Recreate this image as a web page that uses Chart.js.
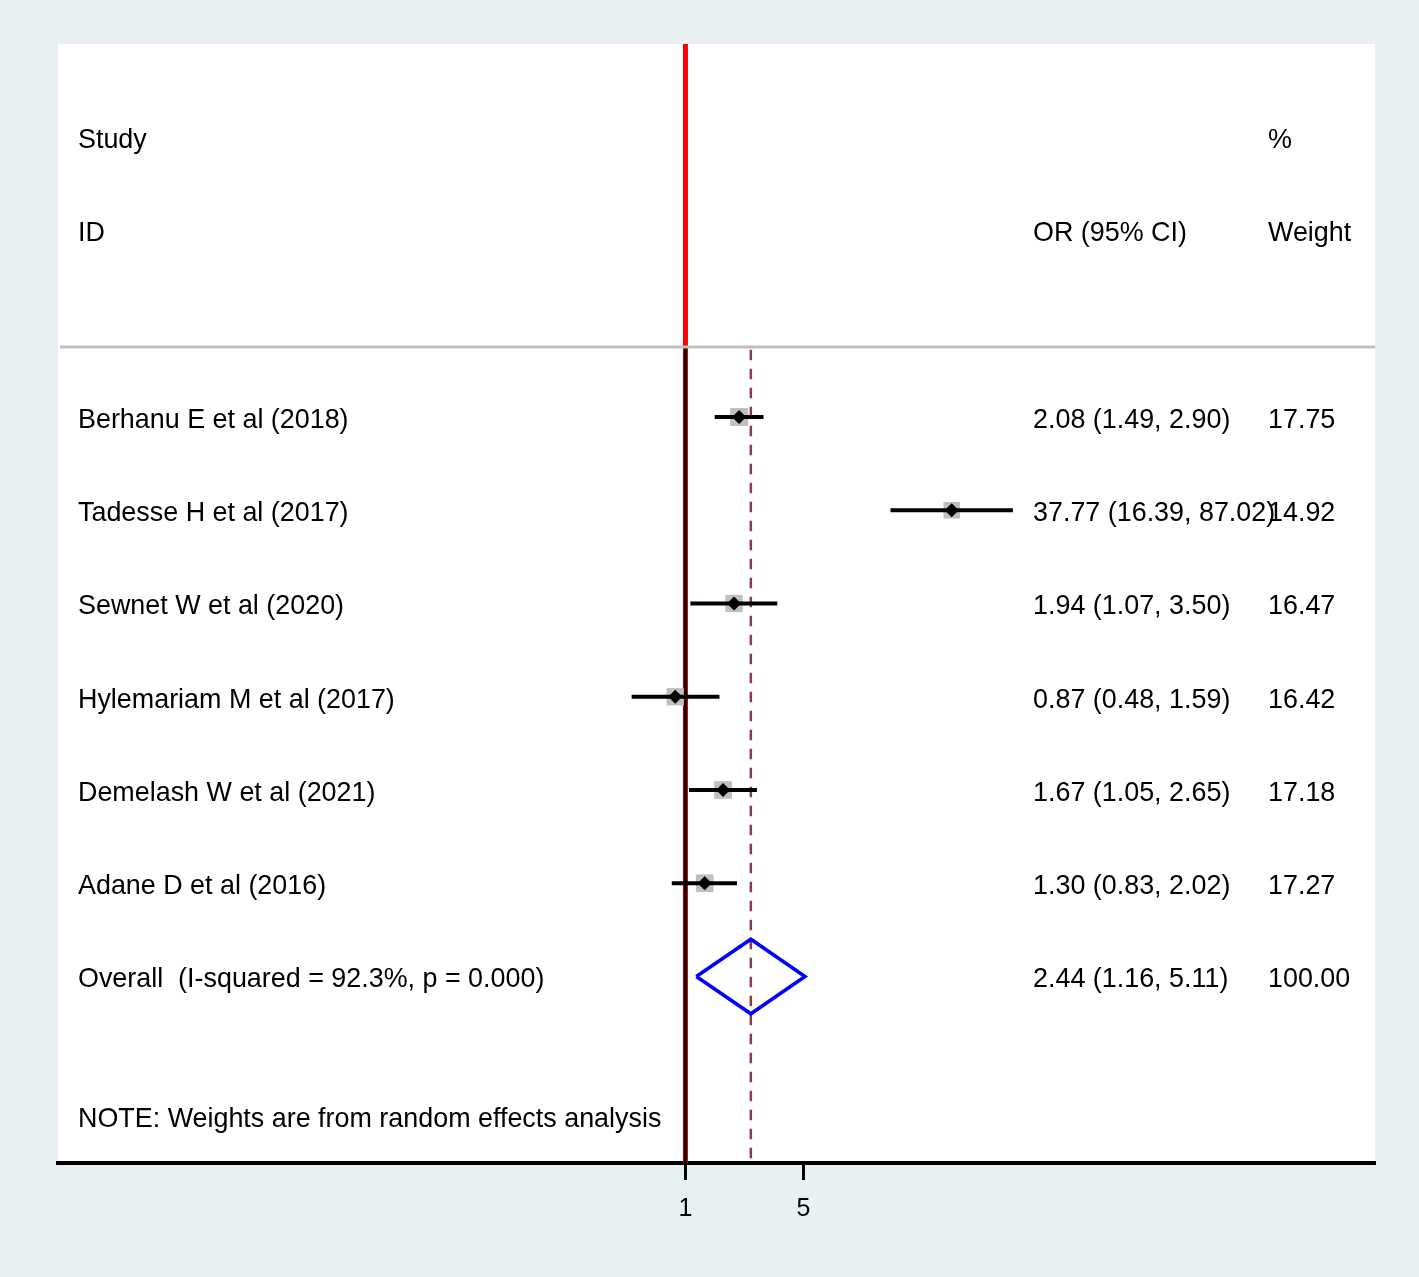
<!DOCTYPE html>
<html>
<head>
<meta charset="utf-8">
<title>Forest plot</title>
<script src="https://cdn.jsdelivr.net/npm/chart.js@4.4.1/dist/chart.umd.min.js"></script>
<style>
  html, body { margin: 0; padding: 0; background: #e8f0f2; }
  canvas { display: block; }
</style>
</head>
<body>
<canvas id="forest" width="1419" height="1277"></canvas>
<script>
// --- Data, top row first ---
const studies = [
  'Berhanu E et al (2018)',
  'Tadesse H et al (2017)',
  'Sewnet W et al (2020)',
  'Hylemariam M et al (2017)',
  'Demelash W et al (2021)',
  'Adane D et al (2016)'
];
const oddsRatios = [2.08, 37.77, 1.94, 0.87, 1.67, 1.30];
const ciLow = [1.49, 16.39, 1.07, 0.48, 1.05, 0.83];
const ciHigh = [2.90, 87.02, 3.50, 1.59, 2.65, 2.02];
const weights = [17.75, 14.92, 16.47, 16.42, 17.18, 17.27];

const overallLabel = 'Overall  (I-squared = 92.3%, p = 0.000)';
const overallOR = 2.44;
const overallLow = 1.16;
const overallHigh = 5.11;
const overallWeight = 100.00;
const noteText = 'NOTE: Weights are from random effects analysis';
const xTicks = [1, 5];

// --- Layout helpers ---
const FONT = '"Liberation Sans", Arial, Helvetica, sans-serif';
const overallRow = studies.length;
const sepRow = -0.75;           // grey line under the header
const fmt = v => v.toFixed(2);
const ciText = (o, l, h) => `${fmt(o)} (${fmt(l)}, ${fmt(h)})`;

// Page background + white plot panel
const backdrop = {
  id: 'backdrop',
  beforeDraw(chart) {
    const { ctx, chartArea: a } = chart;
    ctx.save();
    ctx.fillStyle = '#e8f0f2';
    ctx.fillRect(0, 0, chart.width, chart.height);
    ctx.fillStyle = '#ffffff';
    ctx.fillRect(a.left, a.top, a.right - a.left, a.bottom - a.top);
    ctx.restore();
  }
};

// Header separator and the text columns
const textColumns = {
  id: 'textColumns',
  afterDatasetsDraw(chart) {
    const { ctx, chartArea: a } = chart;
    const y = chart.scales.y;
    ctx.save();
    ctx.strokeStyle = '#c0c0c0';
    ctx.lineWidth = 3;
    ctx.beginPath();
    ctx.moveTo(a.left + 2, y.getPixelForValue(sepRow));
    ctx.lineTo(a.right, y.getPixelForValue(sepRow));
    ctx.stroke();

    ctx.fillStyle = '#000';
    ctx.font = `26.9px ${FONT}`;
    ctx.textBaseline = 'middle';
    ctx.textAlign = 'left';
    const put = (s, x, row) => ctx.fillText(s, x, y.getPixelForValue(row) + 3.5);

    put('Study', 78, -3);
    put('ID', 78, -2);
    put('OR (95% CI)', 1033, -2);
    put('%', 1268, -3);
    put('Weight', 1268, -2);

    studies.forEach((name, i) => {
      put(name, 78, i);
      put(ciText(oddsRatios[i], ciLow[i], ciHigh[i]), 1033, i);
      put(fmt(weights[i]), 1268, i);
    });
    put(overallLabel, 78, overallRow);
    put(ciText(overallOR, overallLow, overallHigh), 1033, overallRow);
    put(fmt(overallWeight), 1268, overallRow);
    put(noteText, 78, 7.5);
    ctx.restore();
  }
};

const vline = (x, y0, y1, color, width, extra = {}) => Object.assign({
  data: [{ x, y: y0 }, { x, y: y1 }],
  showLine: true,
  borderColor: color,
  borderWidth: width,
  pointRadius: 0
}, extra);

const datasets = [
  // overall diamond
  {
    data: [
      { x: overallLow, y: overallRow },
      { x: overallOR, y: overallRow - 0.4 },
      { x: overallHigh, y: overallRow },
      { x: overallOR, y: overallRow + 0.4 },
      { x: overallLow, y: overallRow }
    ],
    showLine: true,
    borderColor: '#0000ff',
    borderWidth: 3.5,
    borderJoinStyle: 'miter',
    pointRadius: 0,
    order: 0
  },
  // point estimates
  {
    data: oddsRatios.map((v, i) => ({ x: v, y: i })),
    pointStyle: 'rectRot',
    pointRadius: 7,
    backgroundColor: '#000',
    borderWidth: 0,
    order: 1
  },
  // confidence intervals
  ...studies.map((_, i) => ({
    data: [{ x: ciLow[i], y: i }, { x: ciHigh[i], y: i }],
    showLine: true,
    borderColor: '#000',
    borderWidth: 4,
    pointRadius: 0,
    order: 2
  })),
  // weight boxes (area ~ weight)
  {
    data: oddsRatios.map((v, i) => ({ x: v, y: i })),
    pointStyle: 'rect',
    pointRadius: weights.map(w => 12.7 * Math.sqrt(w / 17.75)),
    backgroundColor: '#bfbfbf',
    borderWidth: 0,
    order: 3
  },
  vline(overallOR, -0.72, 8, '#8c3b48', 2.5, { borderDash: [10.5, 8.5], order: 4 }),
  vline(1, sepRow, 8, '#1a0505', 3.5, { order: 5 }),
  vline(1, -4, 8, '#ff0000', 5, { order: 6 })
];

new Chart(document.getElementById('forest'), {
  type: 'scatter',
  data: { datasets },
  options: {
    responsive: false,
    devicePixelRatio: 1,
    animation: false,
    events: [],
    layout: { padding: { left: 58, right: 44, top: 44, bottom: 0 } },
    plugins: { legend: { display: false }, tooltip: { enabled: false } },
    scales: {
      x: {
        type: 'logarithmic',
        min: 1.92e-4,
        max: 12150,
        bounds: 'data',
        afterBuildTicks: s => { s.ticks = xTicks.map(v => ({ value: v })); },
        afterFit: s => { s.height = 114; },
        ticks: {
          callback: v => String(v),
          autoSkip: false,
          maxRotation: 0,
          color: '#000',
          padding: 14,
          font: { family: FONT, size: 25 }
        },
        grid: {
          display: true,
          drawOnChartArea: false,
          drawTicks: true,
          tickLength: 17,
          tickWidth: 3,
          tickColor: '#000',
          color: '#000'
        },
        border: { display: true, color: '#000', width: 4 }
      },
      y: { type: 'linear', min: -4, max: 8, reverse: true, display: false }
    }
  },
  plugins: [backdrop, textColumns]
});
</script>
</body>
</html>
